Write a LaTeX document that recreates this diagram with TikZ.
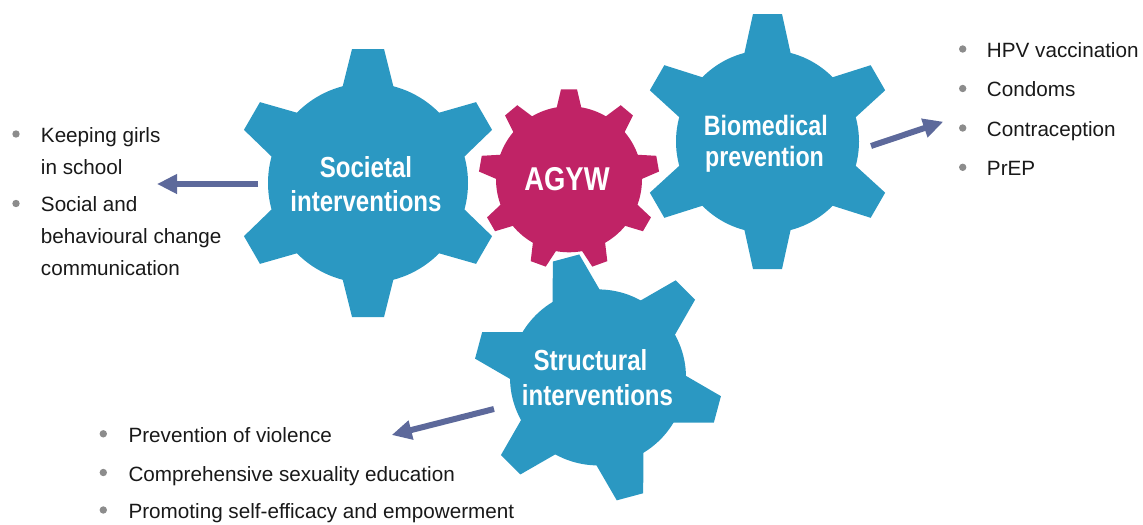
\documentclass[tikz,border=0pt]{standalone}
\usepackage{fontspec}
\setmainfont{Liberation Sans}
\newfontfamily\condbold{Liberation Sans Bold}[FakeStretch=0.83]
\usetikzlibrary{arrows.meta}
\definecolor{gearblue}{RGB}{43,152,194}
\definecolor{gearmag}{RGB}{192,35,102}
\definecolor{arrcol}{RGB}{93,105,155}
\definecolor{bulgray}{RGB}{140,140,140}
\definecolor{txt}{RGB}{25,25,25}
\newcommand\gearshape[8]{%
  \fill (#1,#2) circle[radius=#3];
  \foreach \k in {1,...,#7}{%
    \begin{scope}[shift={(#1,#2)}, rotate={#8+360/#7*\k}]
      \pgfmathsetmacro\rin{0.8*#3}
      \pgfmathsetmacro\wb{#5+(#4-\rin)*#6}
      \fill (\rin,-\wb) -- (#4,-#5) -- (#4,#5) -- (\rin,\wb) -- cycle;
    \end{scope}
  }%
}
\tikzset{
  arr/.style={draw=arrcol, line width=4.5pt, -{Triangle[length=15pt,width=14pt]}},
  item/.style={anchor=base west, inner sep=0pt, text=txt, font=\fontsize{15.5pt}{18pt}\selectfont},
  glabel/.style={anchor=base, inner sep=0pt, text=white},
  bul/.style={fill=bulgray}
}
\begin{document}
\begin{tikzpicture}[x=0.75pt,y=0.75pt]
\useasboundingbox (0,0) rectangle (1143,-525);
% gears
\begin{scope}[fill=gearblue]
  \gearshape{368}{-183}{100}{134}{16}{0.25}{6}{30}
  \gearshape{767.5}{-141.5}{91.5}{127.5}{14.5}{0.22}{6}{30}
  \gearshape{598}{-377.4}{88}{123.6}{13.7}{0.27}{6}{105}
\end{scope}
\begin{scope}[fill=gearmag]
  \gearshape{569}{-179.3}{73}{90}{8}{0.235}{9}{90}
\end{scope}
\coordinate (soc) at (368,-183);
\coordinate (bio) at (767.5,-141.5);
\coordinate (str) at (598,-377.4);
\coordinate (agyw) at (569,-179.3);
% gear labels
\node[glabel, font=\condbold\fontsize{21.75pt}{26pt}\selectfont] (soc1) at (366,-177) {Societal};
\node[glabel, font=\condbold\fontsize{21.75pt}{26pt}\selectfont] (soc2) at (366,-211.7) {interventions};
\node[glabel, font=\condbold\fontsize{24.75pt}{30pt}\selectfont] (ag) at (567,-190) {AGYW};
\node[glabel, font=\condbold\fontsize{21pt}{26pt}\selectfont] (bio1) at (765.8,-135) {Biomedical};
\node[glabel, font=\condbold\fontsize{21pt}{26pt}\selectfont] (bio2) at (764.5,-166.7) {prevention};
\node[glabel, font=\condbold\fontsize{21.75pt}{26pt}\selectfont] (str1) at (590.5,-370) {Structural};
\node[glabel, font=\condbold\fontsize{21.75pt}{26pt}\selectfont] (str2) at (597.5,-405) {interventions};
% arrows
\coordinate (a1s) at (258,-184);
\coordinate (a1e) at (157,-184);
\coordinate (a2s) at (871,-146);
\coordinate (a2e) at (943.3,-121.7);
\coordinate (a3s) at (494,-409);
\coordinate (a3e) at (391.7,-435);
\draw[arr] (a1s) -- (a1e);
\draw[arr] (a2s) -- (a2e);
\draw[arr] (a3s) -- (a3e);
% left list
\fill[bul] (16,-134) circle[radius=3.7];
\node[item] (l1) at (40.7,-142.3) {Keeping girls};
\node[item] (l2) at (40.7,-174) {in school};
\fill[bul] (16,-203.5) circle[radius=3.7];
\node[item] (l3) at (40.7,-211.7) {Social and};
\node[item] (l4) at (40.7,-243.3) {behavioural change};
\node[item] (l5) at (40.7,-275.7) {communication};
% right list
\fill[bul] (962.7,-49) circle[radius=3.7];
\node[item] (r1) at (986.7,-57) {HPV vaccination};
\fill[bul] (962.7,-88.5) circle[radius=3.7];
\node[item] (r2) at (986.7,-96.5) {Condoms};
\fill[bul] (962.7,-128) circle[radius=3.7];
\node[item] (r3) at (986.7,-136) {Contraception};
\fill[bul] (962.7,-167.3) circle[radius=3.7];
\node[item] (r4) at (986.7,-175.3) {PrEP};
% bottom list
\fill[bul] (103.3,-433.8) circle[radius=3.7];
\node[item] (b1) at (128.3,-442.3) {Prevention of violence};
\fill[bul] (103.3,-472.5) circle[radius=3.7];
\node[item] (b2) at (128.3,-481) {Comprehensive sexuality education};
\fill[bul] (103.3,-510) circle[radius=3.7];
\node[item] (b3) at (128.3,-518.3) {Promoting self-efficacy and empowerment};
\end{tikzpicture}
\end{document}
